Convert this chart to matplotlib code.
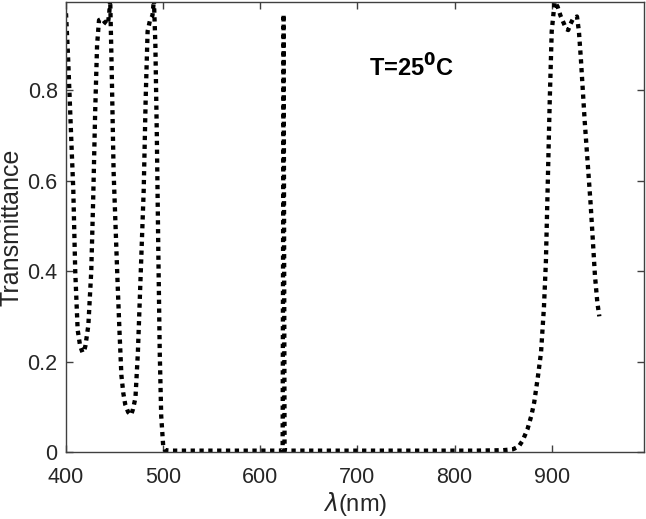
import matplotlib
matplotlib.use("Agg")
import matplotlib.pyplot as plt
import numpy as np

wavelength = [400, 402, 404, 406, 407.5, 409.5, 412, 414.5, 417, 418.5, 420, 423, 426, 428, 430, 432, 434, 437,
              440, 443, 444.5, 445.5, 447, 449, 451, 453, 455, 457, 459, 461, 464, 467, 469, 471.5, 474, 476,
              478, 480, 482, 484, 486.5, 489, 490.5, 492, 493.5, 495, 496.5, 498, 500, 502, 510, 530, 560, 590,
              620, 623, 624, 625, 628, 660, 700, 740, 780, 820, 850, 860, 866, 870, 875, 879, 882, 886, 889,
              892, 894, 896, 898, 900, 903, 906, 909, 912, 915, 917, 919, 922, 926, 928, 930, 932, 934,
              936, 938, 940, 942, 944.5, 947, 949]
transmittance = [0.97, 0.88, 0.77, 0.66, 0.58, 0.40, 0.27, 0.235, 0.22, 0.222, 0.235, 0.28, 0.40, 0.56, 0.75,
                 0.90, 0.955, 0.958, 0.95, 0.945, 0.97, 1.0, 0.85, 0.62, 0.50, 0.38, 0.27, 0.17, 0.13, 0.105,
                 0.088, 0.082, 0.095, 0.12, 0.22, 0.34, 0.46, 0.58, 0.78, 0.93, 0.955, 0.965, 1.0, 0.90, 0.70,
                 0.45, 0.22, 0.08, 0.015, 0.004, 0.003, 0.003, 0.003, 0.003, 0.003, 0.004, 0.968, 0.004, 0.003,
                 0.003, 0.003, 0.003, 0.003, 0.003, 0.004, 0.006, 0.012, 0.025, 0.05, 0.08, 0.11, 0.17, 0.22,
                 0.32, 0.42, 0.60, 0.78, 0.93, 0.995, 0.985, 0.965, 0.95, 0.935, 0.933, 0.945, 0.958, 0.963,
                 0.93, 0.87, 0.80, 0.73, 0.67, 0.61, 0.55, 0.48, 0.39, 0.33, 0.30]

xticks = [400, 500, 600, 700, 800, 900]
yticks = [0, 0.2, 0.4, 0.6, 0.8]
ytick_labels = ["0", "0.2", "0.4", "0.6", "0.8"]

plt.rcParams['font.family'] = ['Liberation Sans', 'DejaVu Sans']

W, H = 646, 519
fig = plt.figure(figsize=(W / 100, H / 100), dpi=100)
AX_L, AX_R, AX_B, AX_T = 66, 644, 452, 2
ax = fig.add_axes([AX_L / W, 1 - AX_B / H, (AX_R - AX_L) / W, (AX_B - AX_T) / H])

ax.plot(wavelength, transmittance, color='black', linewidth=3.1,
        linestyle=(0, (1.0, 1.05)), dash_capstyle='butt', solid_capstyle='butt')

ax.set_xlim(400, 995)
ax.set_ylim(0, 0.995)
ax.set_xticks(xticks)
ax.set_yticks(yticks)
ax.set_yticklabels(ytick_labels)

axcol = '0.25'
for s in ax.spines.values():
    s.set_color(axcol)
    s.set_linewidth(1.0)
ax.tick_params(direction='in', length=5, width=1.0, color=axcol, top=True, right=True,
               labelsize=15.5, labelcolor='0.15')
ax.tick_params(axis='x', pad=11)
ax.tick_params(axis='y', pad=6)

ax.set_xlabel(r'$\lambda$(nm)', fontsize=17, color='0.15')
ax.xaxis.set_label_coords(0.5, (AX_B - 490) / (AX_B - AX_T))
ax.set_ylabel('Transmittance', fontsize=18, color='0.15', va='center')
ax.yaxis.set_label_coords((12 - AX_L) / (AX_R - AX_L), 0.5)

ax.text(712, 0.85, r'T=25$^{\mathbf{0}}$C', fontsize=17, fontweight='bold', color='black',
        va='center', ha='left')

fig.savefig('out.png', dpi=100)
